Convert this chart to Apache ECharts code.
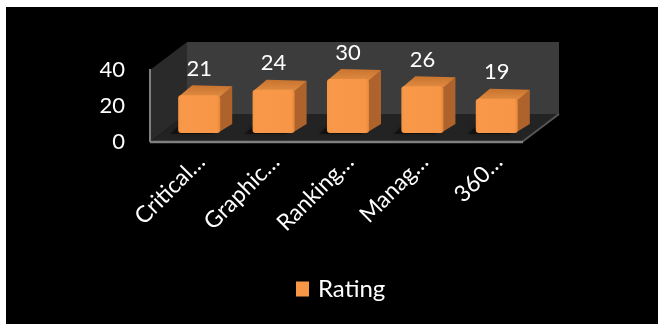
<!DOCTYPE html>
<html><head><meta charset="utf-8">
<script src="https://cdn.jsdelivr.net/npm/echarts@6/dist/echarts.min.js"></script>
<style>html,body{margin:0;padding:0;background:#fff}#c{width:658px;height:324px}</style>
</head><body><div id="c"></div>
<script>
// ---- data ----
const categories = ['Critical…', 'Graphic…', 'Ranking…', 'Manag…', '360…'];
const seriesName = 'Rating';
const ratings = [21, 24, 30, 26, 19];
const yTicks = [0, 20, 40];

// ---- 3D styling (depth offsets in px) ----
const WALL_DX = 37, WALL_DY = -28;   // full depth of floor / walls
const BAR_OX = 12, BAR_OY = -9;      // front face of bars sits this far back
const BAR_DX = 12, BAR_DY = -10;     // depth of each bar
const FONT = 'Lato';

function renderFrame(params, api) {
  const cs = params.coordSys;
  const L = cs.x, R = cs.x + cs.width, T = cs.y, B = cs.y + cs.height;
  const dx = WALL_DX, dy = WALL_DY;
  return {
    type: 'group',
    children: [
      { type: 'polygon', shape: { points: [[L + dx, T + dy], [R + dx, T + dy], [R + dx, B + dy], [L + dx, B + dy]] },
        style: { fill: '#3c3c3c' } },
      { type: 'polygon', shape: { points: [[L, T], [L + dx, T + dy], [L + dx, B + dy], [L, B]] },
        style: { fill: '#2a2a2a' } },
      { type: 'polygon', shape: { points: [[L, B], [R, B], [R + dx, B + dy], [L + dx, B + dy]] },
        style: { fill: '#232323' } },
      { type: 'line', shape: { x1: R, y1: B, x2: R + dx, y2: B + dy },
        style: { stroke: '#555', lineWidth: 2 } },
      { type: 'line', shape: { x1: L, y1: B, x2: R + 1, y2: B },
        style: { stroke: '#7f7f7f', lineWidth: 2.5 } },
      { type: 'line', shape: { x1: L, y1: T - 1, x2: L, y2: B },
        style: { stroke: '#7f7f7f', lineWidth: 2 } }
    ]
  };
}

function renderBar(params, api) {
  const ci = api.value(0), v = api.value(1);
  const base = api.coord([ci, 0]);
  const top = api.coord([ci, v]);
  const band = api.size([1, 0])[0];
  const w = band * 0.565;
  const x0 = base[0] - w / 2 + BAR_OX, x1 = x0 + w;
  const yb = base[1] + BAR_OY, yt = top[1] + BAR_OY;
  const dx = BAR_DX, dy = BAR_DY;
  return {
    type: 'group',
    children: [
      { type: 'polygon', shape: { points: [[x0 - 8, yb + 1], [x1 - 8, yb + 1], [x1 + dx - 8, yb + dy], [x0 + dx - 8, yb + dy]] },
        style: { fill: 'rgba(0,0,0,0.45)', shadowBlur: 6, shadowColor: 'rgba(0,0,0,0.6)' } },
      { type: 'polygon', shape: { points: [[x1 - 1, yb - 1], [x1 + dx, yb + dy + 1], [x1 + dx, yt + dy + 1], [x1 - 1, yt]] },
        style: { fill: '#ad632b' } },
      { type: 'polygon', shape: { points: [[x0 + 1, yt + 1], [x1, yt + 1], [x1 + dx, yt + dy + 1], [x0 + dx + 2, yt + dy]] },
        style: { fill: { type: 'linear', x: 0, y: 1, x2: 0, y2: 0, colorStops: [{ offset: 0, color: '#e08a40' }, { offset: 1, color: '#c8742f' }] } } },
      { type: 'rect', shape: { x: x0, y: yt, width: w, height: yb - yt, r: 3 },
        style: { fill: { type: 'linear', x: 0, y: 0, x2: 1, y2: 0, colorStops: [{ offset: 0, color: '#f59443' }, { offset: 0.08, color: '#f89848' }, { offset: 0.92, color: '#f79646' }, { offset: 1, color: '#e4863a' }] } } },
      { type: 'text', style: { text: String(v), x: x0 + w / 2, y: yt - 26.5, fill: '#fff', fontSize: 22, fontFamily: FONT, align: 'center', verticalAlign: 'middle' } }
    ]
  };
}

const chart = echarts.init(document.getElementById('c'), null, { renderer: 'canvas' });
chart.setOption({
  backgroundColor: '#fff',
  animation: false,
  graphic: [{ type: 'rect', z: -100, shape: { x: 6, y: 7, width: 652, height: 317 }, style: { fill: '#000' } }],
  grid: [
    { left: 150, width: 372, top: 70, height: 72 },
    { left: 164, width: 372, top: 70, height: 72 }
  ],
  xAxis: [
    { type: 'category', data: categories, gridIndex: 0, show: false },
    { type: 'category', data: categories, gridIndex: 1, axisLine: { show: false }, axisTick: { show: false },
      axisLabel: { interval: 0, rotate: 45, margin: 16, color: '#fff', fontSize: 23, fontFamily: FONT } }
  ],
  yAxis: [
    { type: 'value', gridIndex: 0, min: yTicks[0], max: yTicks[yTicks.length - 1], interval: yTicks[1] - yTicks[0],
      splitLine: { show: false }, axisLine: { show: false }, axisTick: { show: false },
      axisLabel: { margin: 25, color: '#fff', fontSize: 22, fontFamily: FONT } },
    { type: 'value', gridIndex: 1, show: false, min: yTicks[0], max: yTicks[yTicks.length - 1] }
  ],
  legend: {
    data: [seriesName], left: 291, top: 272, icon: 'rect', itemWidth: 13, itemHeight: 15,
    textStyle: { color: '#fff', fontSize: 24, fontFamily: FONT, padding: [0, 0, 0, 4] }
  },
  series: [
    { type: 'custom', name: 'frame', xAxisIndex: 0, yAxisIndex: 0, data: [[0, 0]], renderItem: renderFrame, z: 1, silent: true, clip: false },
    { type: 'custom', name: seriesName, xAxisIndex: 0, yAxisIndex: 0, data: ratings.map((v, i) => [i, v]),
      renderItem: renderBar, z: 2, clip: false, itemStyle: { color: '#F79646' } }
  ]
});
</script></body></html>
